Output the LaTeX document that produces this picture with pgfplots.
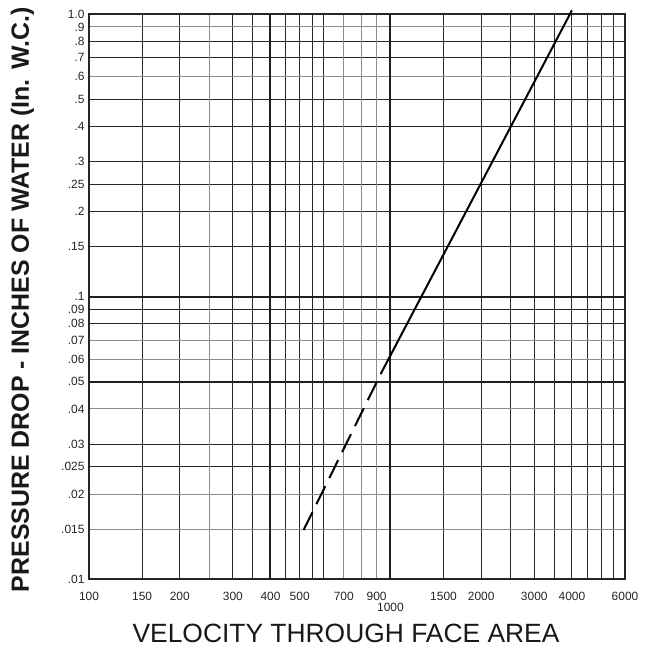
\documentclass[border=0pt]{standalone}
\usepackage{fontspec}
\setmainfont{Liberation Sans}
\usepackage{pgfplots}
\pgfplotsset{compat=1.18}

\begin{document}
\begin{tikzpicture}
  % normal dark grid lines
  \begin{axis}[
    scale only axis,
    width=536bp, height=565bp,
    xmode=log, ymode=log,
    xmin=100, xmax=6000,
    ymin=0.01, ymax=1,
    major tick length=0pt, minor tick length=0pt,
    axis line style={draw=none},
    xtick={150,200,300,350,450,500,550,600,1500,2000,2500,3000,3500,4000,4500,5000,5500},
    ytick={0.025,0.03,0.08,0.09,0.15,0.2,0.25,0.3,0.4,0.5,0.7,0.8},
    xticklabels={}, yticklabels={},
    grid=major,
    major grid style={black!85, line width=1bp},
  ]
  \end{axis}

  \begin{axis}[
    scale only axis,
    width=536bp, height=565bp,
    xmode=log, ymode=log,
    xmin=100, xmax=6000,
    ymin=0.01, ymax=1,
    major tick length=0pt, minor tick length=0pt,
    clip=false,
    axis line style={black!85, line width=1.2bp},
    tick label style={font=\fontsize{12}{14}\selectfont, text=black!85},
    xtick={100,150,200,300,400,500,700,900,1000,1500,2000,3000,4000,6000},
    xticklabels={100,150,200,300,400,500,700,900,\raisebox{-11bp}[\height][0pt]{1000},1500,2000,3000,4000,6000},
    xticklabel style={yshift=-10bp},
    ytick={0.01,0.015,0.02,0.025,0.03,0.04,0.05,0.06,0.07,0.08,0.09,0.1,0.15,0.2,0.25,0.3,0.4,0.5,0.6,0.7,0.8,0.9,1},
    yticklabels={.01,.015,.02,.025,.03,.04,.05,.06,.07,.08,.09,.1,.15,.2,.25,.3,.4,.5,.6,.7,.8,.9,1.0},
    yticklabel style={xshift=-1bp},
    % light grid lines
    minor xtick={250,700,800,900},
    minor ytick={0.015,0.02,0.04,0.06,0.07,0.6,0.9},
    minor grid style={black!45, line width=0.9bp},
    xminorgrids=true, yminorgrids=true,
    % heavy grid lines
    extra x ticks={400,1000},
    extra x tick labels={},
    extra y ticks={0.05,0.1},
    extra y tick labels={},
    extra tick style={grid=major, major grid style={black!88, line width=2bp}},
    xlabel={VELOCITY THROUGH FACE AREA},
    xlabel style={font=\fontsize{26.5}{30}\selectfont, text=black!90,
      at={(axis description cs:0.4795,-0.097)}, anchor=center},
    ylabel={PRESSURE DROP - INCHES OF WATER (In. W.C.)},
    ylabel style={font=\fontsize{25}{30}\selectfont\bfseries, text=black!90,
      at={(axis description cs:-0.124,0.494)}, anchor=center},
  ]
  \addplot[black, line width=2bp, dash pattern=on 20bp off 9bp]
    coordinates {(515,0.0149) (935,0.054)};
  \addplot[black, line width=2bp]
    coordinates {(935,0.054) (4000,1.03)};
  \end{axis}

  \pgfresetboundingbox
  \path[use as bounding box] (current axis.south west) ++(-89bp,-68bp) rectangle ++(653bp,647bp);
\end{tikzpicture}
\end{document}
